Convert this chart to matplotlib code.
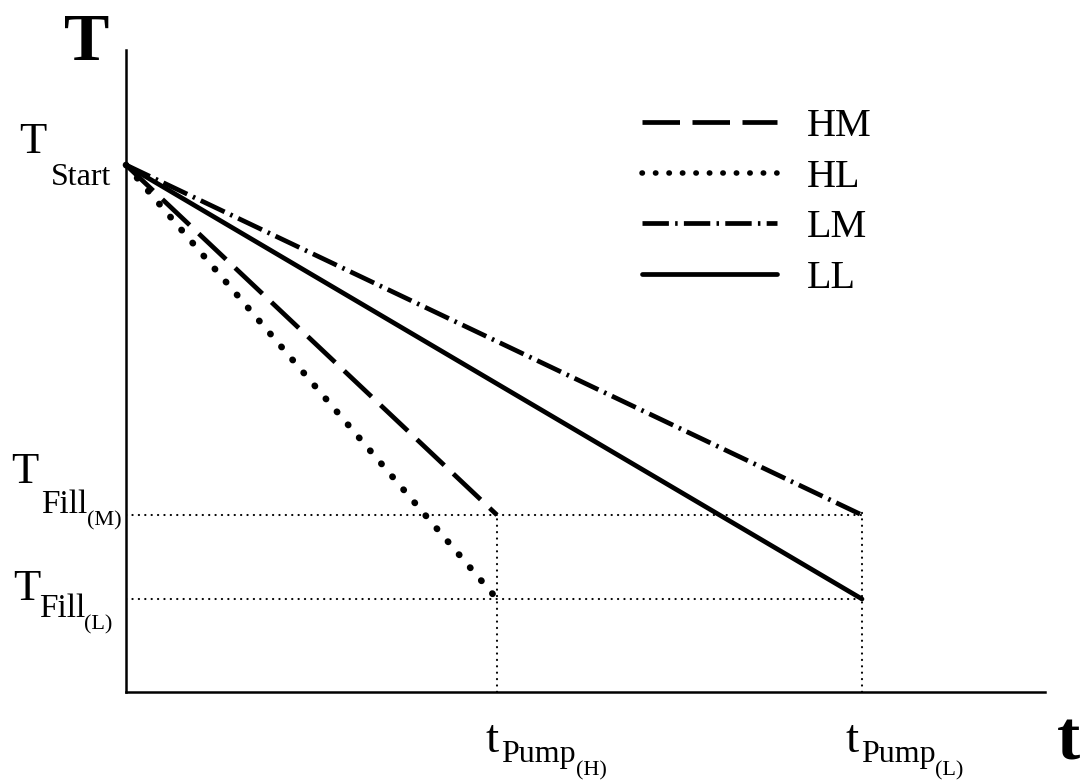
import matplotlib
matplotlib.use("Agg")
import matplotlib.pyplot as plt
from matplotlib.lines import Line2D

plt.rcParams["font.family"] = ["Liberation Serif", "DejaVu Serif"]
plt.rcParams["lines.scale_dashes"] = False

# Schematic cooling curves (arbitrary units)
T_start = 527
T_fill_M = 177
T_fill_L = 93
t_pump_H = 371
t_pump_L = 736
t_max = 919
T_max = 642

series_names = ["HM", "HL", "LM", "LL"]
series_end_t = [t_pump_H, t_pump_H, t_pump_L, t_pump_L]
series_end_T = [T_fill_M, T_fill_L, T_fill_M, T_fill_L]

W, H = 1083, 784
fig = plt.figure(figsize=(W / 100, H / 100), dpi=100)
ax = fig.add_axes([126 / W, 1 - 692 / H, (1045 - 126) / W, (692 - 50) / H])
ax.set_xlim(0, t_max)
ax.set_ylim(0, T_max)

styles = {
    "HM": dict(dashes=(27, 9), dash_capstyle="butt", lw=3.4),
    "HL": dict(dashes=(0.3, 12.0), dash_capstyle="round", lw=4.8),
    "LM": dict(dashes=(19, 4.5, 1.8, 4.5), dash_capstyle="butt", lw=3.4),
    "LL": dict(linestyle="-", lw=3.4, solid_capstyle="round"),
}
legend_styles = dict(styles)
legend_styles["HL"] = dict(dashes=(0.3, 9.4), dash_capstyle="round", lw=4.0)

handles = []
for name, te, Te in zip(series_names, series_end_t, series_end_T):
    ax.plot([0, te], [T_start, Te], color="black", clip_on=False, **styles[name])
    handles.append(Line2D([0], [0], color="black", **legend_styles[name]))

# Thin dotted guide lines
guide = dict(color="black", lw=1.5, dashes=(0.2, 4.4), dash_capstyle="round")
ax.plot([0, t_pump_L], [T_fill_M, T_fill_M], **guide)
ax.plot([0, t_pump_L], [T_fill_L, T_fill_L], **guide)
ax.plot([t_pump_H, t_pump_H], [0, T_fill_M], **guide)
ax.plot([t_pump_L, t_pump_L], [0, T_fill_M + 6], **guide)

for s in ["top", "right"]:
    ax.spines[s].set_visible(False)
for s in ["left", "bottom"]:
    ax.spines[s].set_linewidth(1.8)
ax.set_xticks([])
ax.set_yticks([])

leg = ax.legend(handles, series_names, loc="upper left",
                bbox_to_anchor=(642 / W, 1 - 108 / H), bbox_transform=fig.transFigure,
                frameon=False, fontsize=29, handlelength=3.35, handletextpad=0.75,
                labelspacing=0.33, borderpad=0, borderaxespad=0)


def put(x, y, s, size, **kw):
    fig.text(x / W, 1 - y / H, s, fontsize=size, ha="left", va="baseline", **kw)


# Axis titles
put(64, 60, "T", 49, fontweight="bold")
put(1057, 760, "t", 50, fontweight="bold")

# Level labels on the T axis
put(19, 153, "T", 32)
put(51, 185, "Start", 23)
put(11, 483, "T", 32)
put(41, 513, "Fill", 24)
put(87, 525, "(M)", 16)
put(13, 600, "T", 32)
put(39, 617, "Fill", 24)
put(84, 629, "(L)", 16)

# Time labels on the t axis
put(485, 752, "t", 34)
put(501, 762, "Pump", 23)
put(576, 775, "(H)", 16)
put(845, 752, "t", 34)
put(861, 762, "Pump", 23)
put(935, 775, "(L)", 16)

fig.savefig("out.png", dpi=100)
